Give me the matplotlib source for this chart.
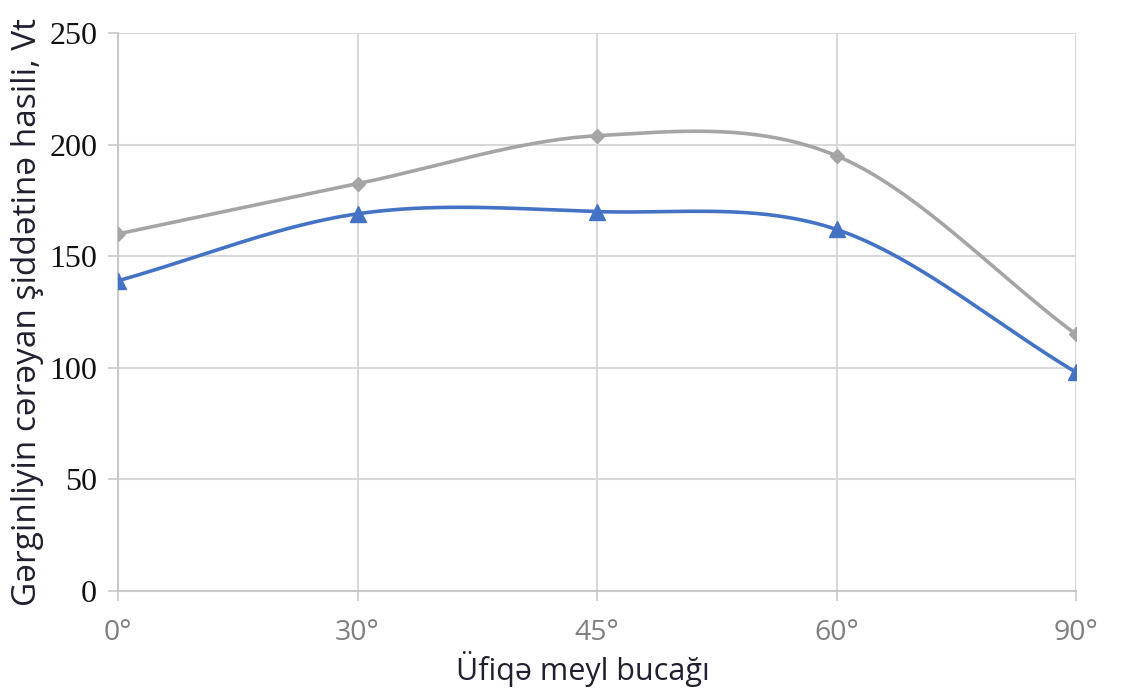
import numpy as np
import matplotlib
matplotlib.use("Agg")
import matplotlib.pyplot as plt

categories = ["0°", "30°", "45°", "60°", "90°"]
gray_values = [160, 182.5, 204, 195, 115]
blue_values = [139, 169, 170, 162, 98]
y_ticks = [0, 50, 100, 150, 200, 250]
x_label = "Üfiqə meyl bucağı"
y_label = "Gərginliyin cərəyan şiddətinə hasili, Vt"


def smooth(xs, ys, n=40):
    """Catmull-Rom style smoothing (as in spreadsheet 'smoothed line')."""
    xs = np.asarray(xs, float)
    ys = np.asarray(ys, float)
    px = np.concatenate([[2 * xs[0] - xs[1]], xs, [2 * xs[-1] - xs[-2]]])
    py = np.concatenate([[2 * ys[0] - ys[1]], ys, [2 * ys[-1] - ys[-2]]])
    ox, oy = [], []
    for i in range(1, len(px) - 2):
        p0, p1, p2, p3 = [np.array([px[j], py[j]]) for j in (i - 1, i, i + 1, i + 2)]
        c1 = p1 + (p2 - p0) / 6.0
        c2 = p2 - (p3 - p1) / 6.0
        t = np.linspace(0, 1, n)[:, None]
        b = ((1 - t) ** 3) * p1 + 3 * ((1 - t) ** 2) * t * c1 + 3 * (1 - t) * t ** 2 * c2 + t ** 3 * p2
        ox.extend(b[:, 0]); oy.extend(b[:, 1])
    return np.array(ox), np.array(oy)


fig = plt.figure(figsize=(11.22, 6.91), dpi=100)
ax = fig.add_axes([0.1052, 0.1447, 0.959 - 0.1052, 0.9522 - 0.1447])

x = np.arange(len(categories))
gcol = "#a5a5a5"
bcol = "#4472c4"

sx, sy = smooth(x, gray_values)
ax.plot(sx, sy, color=gcol, lw=2.6, zorder=3, solid_capstyle="round")
ax.plot(x, gray_values, ls="none", marker="D", ms=7, color=gcol, zorder=4)

sx, sy = smooth(x, blue_values)
ax.plot(sx, sy, color=bcol, lw=2.6, zorder=3, solid_capstyle="round")
ax.plot(x, blue_values, ls="none", marker="^", ms=11, color=bcol, zorder=4)

ax.set_xlim(0, len(categories) - 1)
ax.set_ylim(0, 250)
ax.set_xticks(x)
ax.set_xticklabels(categories, fontsize=20.5, color="#7f7f7f", family="Open Sans")
ax.set_yticks(y_ticks)
ax.set_yticklabels([str(v) for v in y_ticks], fontsize=23, color="#111111", family="Liberation Serif")
ax.tick_params(axis="x", length=7, width=1.2, color="#c8c8c8", pad=13)
ax.tick_params(axis="y", length=7, width=1.2, color="#c8c8c8", pad=8)

ax.grid(True, color="#d9d9d9", lw=1.5, zorder=0)
ax.set_axisbelow(True)
for s in ["top", "right"]:
    ax.spines[s].set_visible(False)
for s in ["left", "bottom"]:
    ax.spines[s].set_color("#c8c8c8")
    ax.spines[s].set_linewidth(1.5)

ax.set_xlabel(x_label, fontsize=22, color="#202030", family="Open Sans", va="top")
ax.xaxis.set_label_coords(0.485, -0.108)
ax.set_ylabel(y_label, fontsize=24, color="#202030", family="Open Sans")
ax.yaxis.set_label_coords(-0.077, 0.5)

fig.savefig("out.png", dpi=100, facecolor="white")
